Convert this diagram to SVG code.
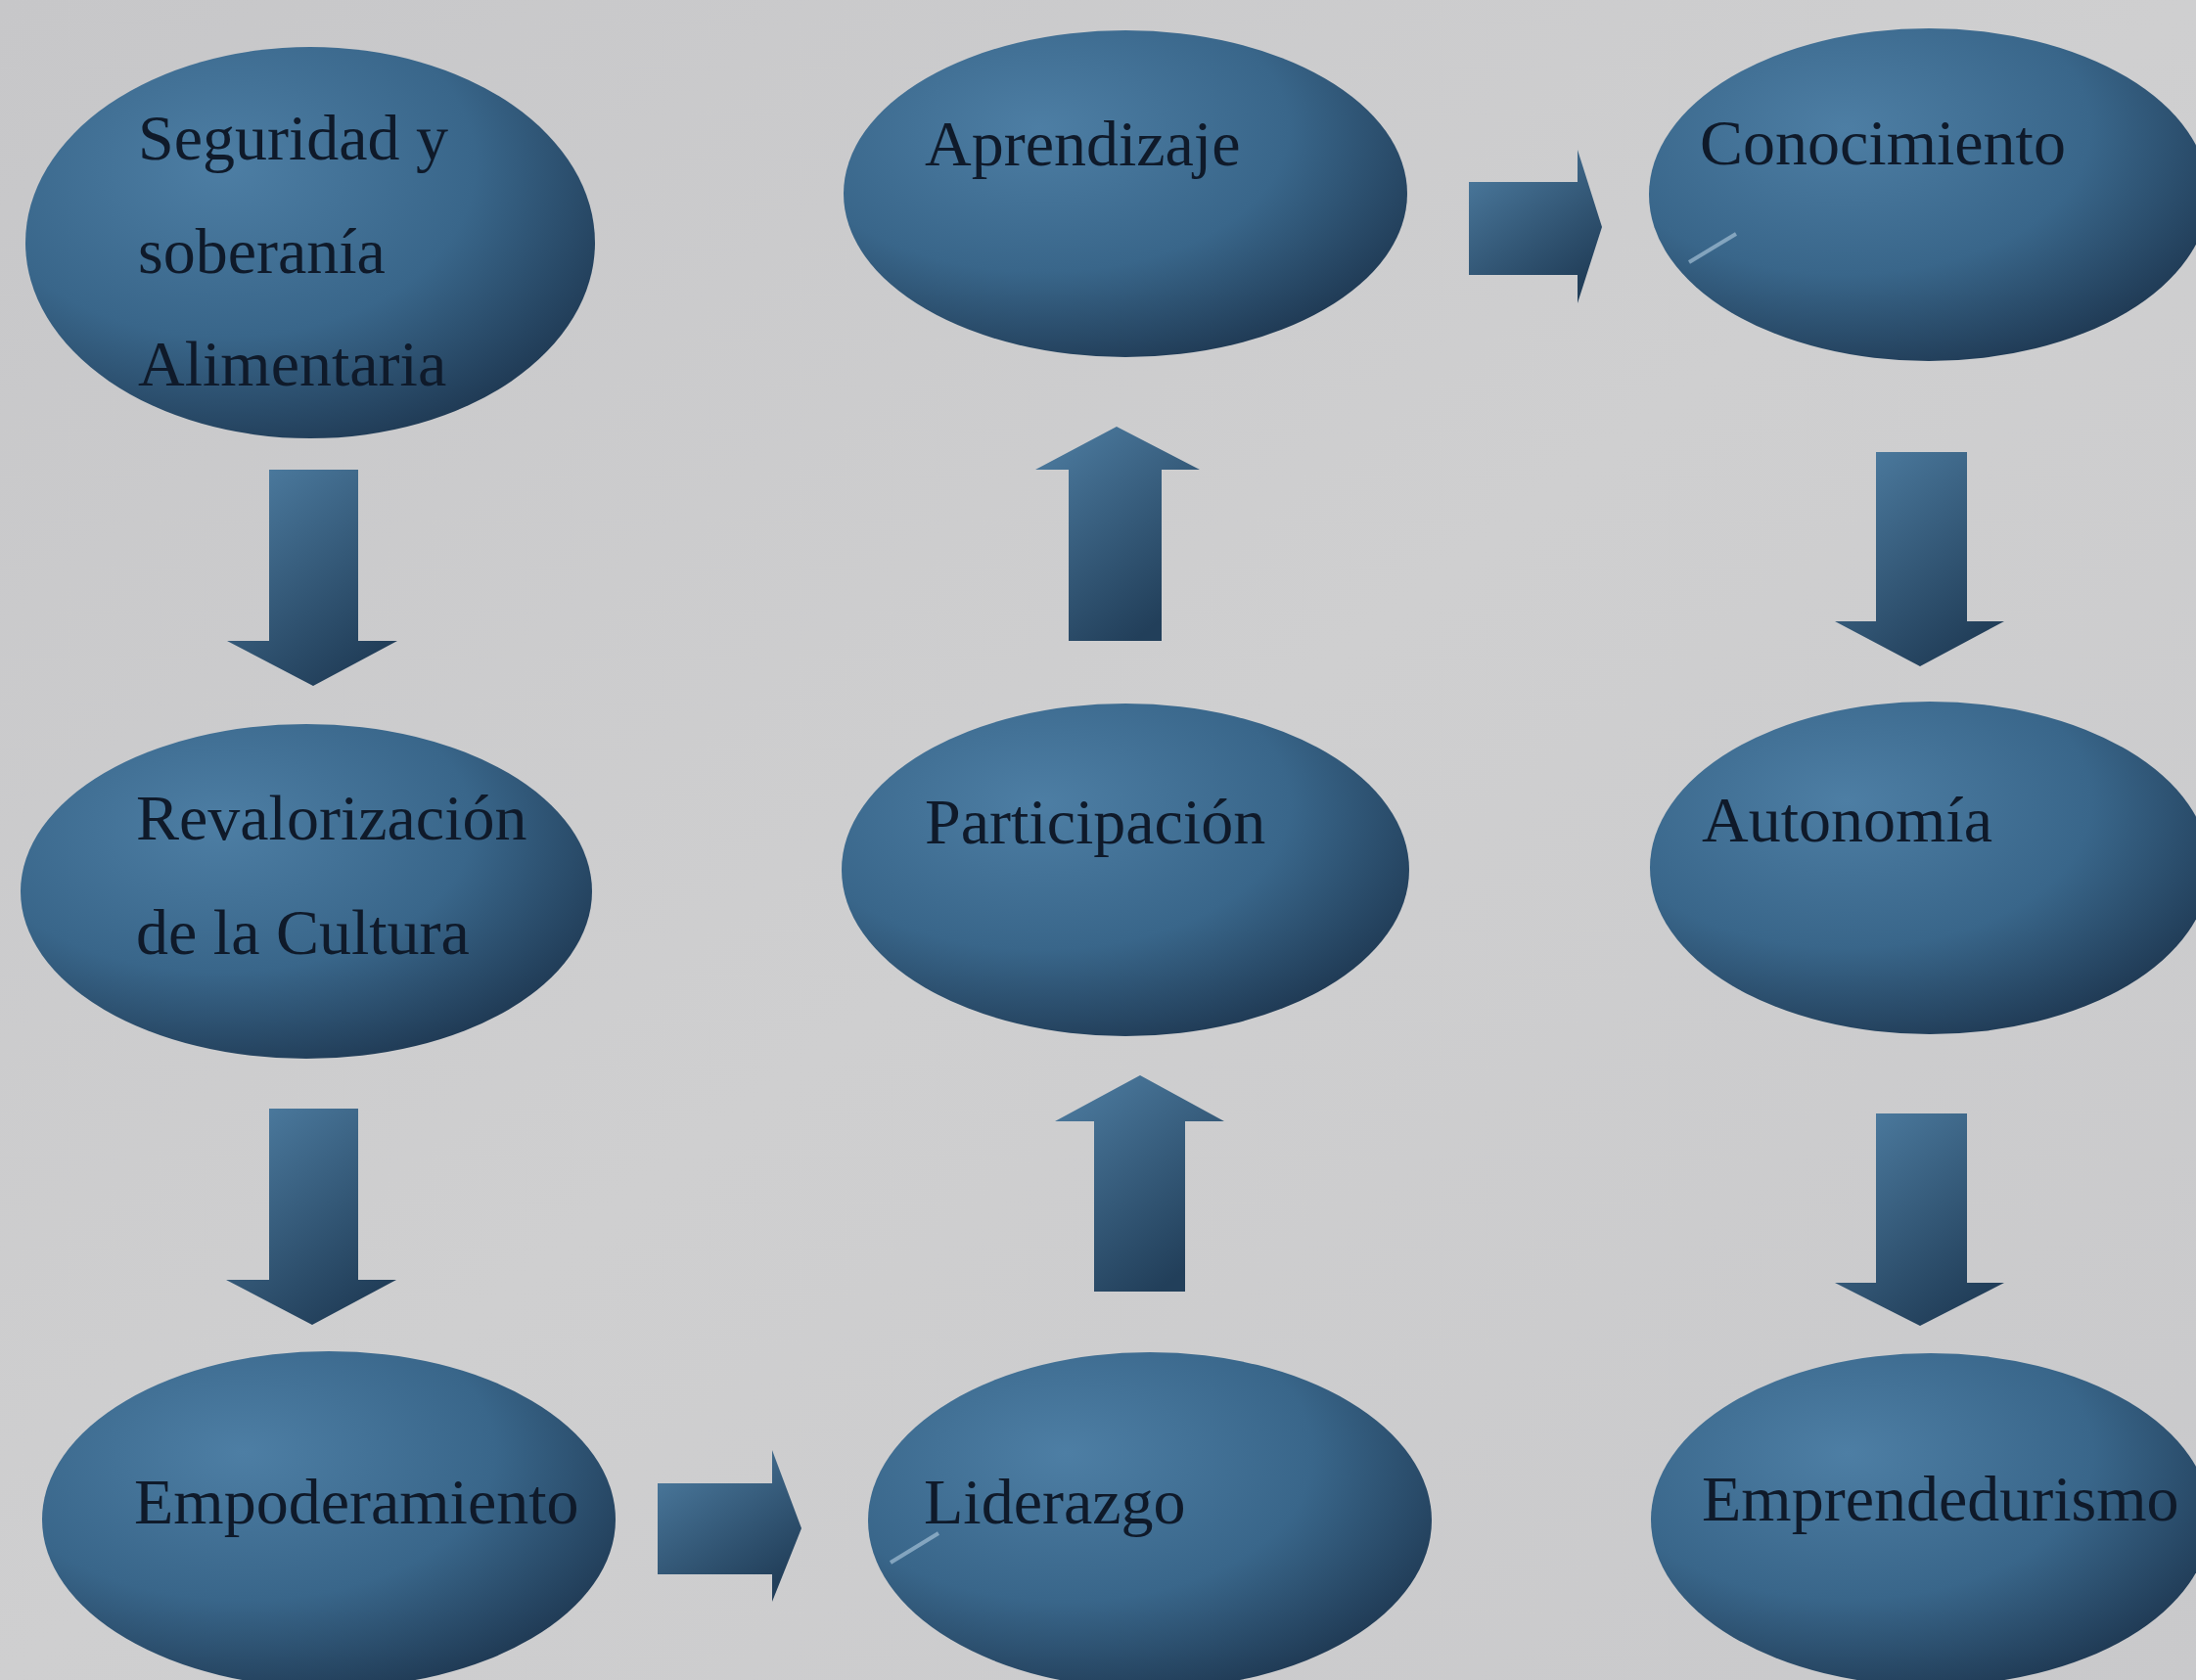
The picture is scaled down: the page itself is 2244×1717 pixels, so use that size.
<svg xmlns="http://www.w3.org/2000/svg" width="2244" height="1717" viewBox="0 0 2244 1717">
<defs>
<radialGradient id="gE" cx="0.35" cy="0.3" r="0.8">
<stop offset="0" stop-color="#4d7ea4"/>
<stop offset="0.55" stop-color="#39668a"/>
<stop offset="1" stop-color="#1c344d"/>
</radialGradient>
<linearGradient id="gA" x1="0" y1="0" x2="0.6" y2="1">
<stop offset="0" stop-color="#4f7fa4"/>
<stop offset="1" stop-color="#223f5a"/>
</linearGradient>
<linearGradient id="gBg" x1="0" y1="0" x2="1" y2="1">
<stop offset="0" stop-color="#c7c7c9"/>
<stop offset="0.5" stop-color="#cfcfd0"/>
<stop offset="1" stop-color="#c9c9cb"/>
</linearGradient>
<style>
.node ellipse{fill:url(#gE);}
.node text{font-family:"Liberation Serif","Times New Roman",serif;font-size:66px;fill:#0f1a2a;}
.arrow{fill:url(#gA);}
.glare{stroke:#a3bfd4;stroke-width:4;stroke-opacity:0.7;fill:none;}
</style>
</defs>
<rect width="2244" height="1717" fill="url(#gBg)"/>
<g id="connectors">
<polygon class="arrow" points="275,480 366,480 366,655 406,655 320,701 232,655 275,655"/>
<polygon class="arrow" points="275,1133 366,1133 366,1308 405,1308 319,1354 231,1308 275,1308"/>
<polygon class="arrow" points="672,1516 789,1516 789,1482 819,1562 789,1637 789,1609 672,1609"/>
<polygon class="arrow" points="1118,1320 1211,1320 1211,1146 1251,1146 1165,1099 1078,1146 1118,1146"/>
<polygon class="arrow" points="1092,655 1187,655 1187,480 1226,480 1141,436 1058,480 1092,480"/>
<polygon class="arrow" points="1501,186 1612,186 1612,153 1637,232 1612,310 1612,281 1501,281"/>
<polygon class="arrow" points="1917,462 2010,462 2010,635 2048,635 1962,681 1875,635 1917,635"/>
<polygon class="arrow" points="1917,1138 2010,1138 2010,1311 2048,1311 1962,1355 1875,1311 1917,1311"/>
</g>
<g id="n1" class="node"><ellipse cx="317" cy="248" rx="291" ry="200"/><text x="141" y="163">Seguridad y</text><text x="141" y="279">soberanía</text><text x="141" y="394">Alimentaria</text></g>
<g id="n2" class="node"><ellipse cx="313" cy="911" rx="292" ry="171"/><text x="139" y="858">Revalorización</text><text x="139" y="975">de la Cultura</text></g>
<g id="n3" class="node"><ellipse cx="336" cy="1553" rx="293" ry="172"/><text x="137" y="1557">Empoderamiento</text></g>
<g id="n4" class="node"><ellipse cx="1175" cy="1554" rx="288" ry="172"/><text x="944" y="1557">Liderazgo</text><path class="glare" d="M910,1597 L959,1567"/></g>
<g id="n5" class="node"><ellipse cx="1150" cy="889" rx="290" ry="170"/><text x="945" y="862">Participación</text></g>
<g id="n6" class="node"><ellipse cx="1150" cy="198" rx="288" ry="167"/><text x="945" y="169">Aprendizaje</text></g>
<g id="n7" class="node"><ellipse cx="1971" cy="199" rx="286" ry="170"/><text x="1737" y="168">Conocimiento</text><path class="glare" d="M1726,268 L1774,239"/></g>
<g id="n8" class="node"><ellipse cx="1972" cy="887" rx="286" ry="170"/><text x="1739" y="860">Autonomía</text></g>
<g id="n9" class="node"><ellipse cx="1973" cy="1553" rx="286" ry="170"/><text x="1739" y="1554">Emprendedurismo</text></g>
</svg>
